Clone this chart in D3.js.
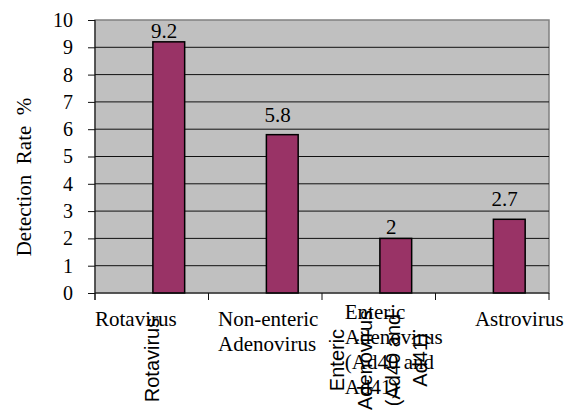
<!DOCTYPE html>
<html>
<head>
<meta charset="utf-8">
<script src="https://cdn.jsdelivr.net/npm/d3@7"></script>
<style>
  body { margin: 0; background: #fff; }
  svg { display: block; }
</style>
</head>
<body>
<script>
/***********************************************************************************/
// Data

var categories = ['Rotavirus', 'Non-enteric Adenovirus', 'Enteric Adenovirus (Ad40 and Ad41)', 'Astrovirus'];
var labelLines = [['Rotavirus'], ['Non-enteric', 'Adenovirus'], ['Enteric', 'Adenovirus', '(Ad40 and', 'Ad41)'], ['Astrovirus']];
var rates = [9.2, 5.8, 2, 2.7];
var yTicks = [0, 1, 2, 3, 4, 5, 6, 7, 8, 9, 10];
// the chart also shows a rotated copy of some labels
var rotatedIdx = [0, 2];

/***********************************************************************************/
// Setup

var W = 568, H = 418;
var pLeft = 95, pRight = 549, pTop = 20, pBottom = 293;
var serif = '"Liberation Serif", "Times New Roman", serif';
var sans = '"Liberation Sans", Arial, sans-serif';

var svg = d3.select('body').append('svg').attr('width', W).attr('height', H);

var x = d3.scaleBand().domain(categories).range([pLeft, pRight]);
var y = d3.scaleLinear().domain([0, 10]).range([pBottom, pTop]);

/***********************************************************************************/
// Plot area + grid

svg.append('rect')
  .attr('x', pLeft).attr('y', pTop)
  .attr('width', pRight - pLeft).attr('height', pBottom - pTop)
  .attr('fill', '#c0c0c0')
  .attr('stroke', '#808080').attr('stroke-width', 1.5);

svg.selectAll('.grid').data(yTicks.slice(1, -1)).enter().append('line')
  .attr('x1', pLeft).attr('x2', pRight)
  .attr('y1', function(d){ return y(d); }).attr('y2', function(d){ return y(d); })
  .attr('stroke', '#111').attr('stroke-width', 1);

/***********************************************************************************/
// Bars

var bw = x.bandwidth();
svg.selectAll('.bar').data(rates).enter().append('rect')
  .attr('x', function(d, i){ return x(categories[i]) + bw * 0.51; })
  .attr('y', function(d){ return y(d); })
  .attr('width', bw * 0.28)
  .attr('height', function(d){ return y(0) - y(d); })
  .attr('fill', '#993366')
  .attr('stroke', '#000').attr('stroke-width', 1.5);

// labels sit a bit higher when the value is past the half
svg.selectAll('.val').data(rates).enter().append('text')
  .attr('x', function(d, i){ return x(categories[i]) + bw * 0.61; })
  .attr('y', function(d){ return y(d) - (d % 1 > 0.5 ? 13 : 4); })
  .attr('text-anchor', 'middle')
  .style('font-family', serif).style('font-size', '21px')
  .text(function(d){ return d; });

/***********************************************************************************/
// Axes

var yAxis = svg.append('g').attr('transform', 'translate(' + pLeft + ',0)')
  .call(d3.axisLeft(y).tickValues(yTicks).tickSize(7).tickPadding(15));
yAxis.select('.domain').attr('stroke', '#111').attr('d', 'M0,' + pTop + 'V' + (pBottom + 7));
yAxis.selectAll('.tick line').attr('stroke', '#111');
yAxis.selectAll('.tick text')
  .style('font-family', serif).style('font-size', '20px').attr('fill', '#000');

var xTicks = categories.map(function(c){ return x(c); }).concat([pRight]);
svg.selectAll('.xtick').data(xTicks).enter().append('line')
  .attr('x1', function(d){ return d; }).attr('x2', function(d){ return d; })
  .attr('y1', pBottom).attr('y2', pBottom + 7)
  .attr('stroke', '#111');
svg.append('line').attr('x1', pLeft).attr('x2', pRight)
  .attr('y1', pBottom).attr('y2', pBottom).attr('stroke', '#111');

/***********************************************************************************/
// Category labels (left aligned block, block centred)

labelLines.forEach(function(lines, i){
  var cx = x(categories[i]) + bw / 2 + (i - 1) * 12 + 3;
  var y0 = 326 - Math.max(0, lines.length - 2) * 3.5;
  var t = svg.append('text')
    .style('font-family', serif).style('font-size', '21px');
  var spans = lines.map(function(l, j){
    return t.append('tspan').attr('y', y0 + j * 25).text(l);
  });
  var maxW = d3.max(spans, function(s){ return s.node().getComputedTextLength(); });
  var x0 = Math.max(pLeft, cx - maxW / 2 - (i == 0 ? 8 : 0));
  spans.forEach(function(s){ s.attr('x', x0); });
});

rotatedIdx.forEach(function(i){
  var lines = labelLines[i];
  var cx = x(categories[i]) + bw / 2;
  var n = lines.length;
  lines.forEach(function(l, j){
    var lx = cx + (j - (n - 1) / 2) * 27.7;
    svg.append('text')
      .attr('transform', 'translate(' + lx + ',360) rotate(-90)')
      .attr('text-anchor', 'middle')
      .attr('dy', '0.35em')
      .style('font-family', sans).style('font-size', '20px')
      .text(l);
  });
});

/***********************************************************************************/
// Y title

svg.append('text')
  .attr('transform', 'translate(31,177) rotate(-90)')
  .attr('text-anchor', 'middle')
  .style('font-family', serif).style('font-size', '21px')
  .style('white-space', 'pre')
  .text('Detection  Rate  %');
</script>
</body>
</html>
